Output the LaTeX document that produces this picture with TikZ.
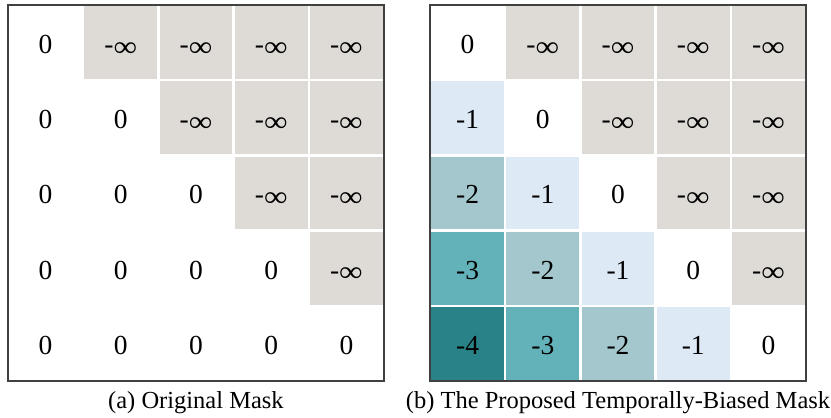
\documentclass[tikz,border=0pt]{standalone}
\usepackage{fontspec}
\usepackage{graphicx}
\setmainfont{Liberation Serif}
\definecolor{maskgray}{RGB}{222,219,214}
\definecolor{biasone}{RGB}{221,233,245}
\definecolor{biastwo}{RGB}{163,199,204}
\definecolor{biasthree}{RGB}{100,178,185}
\definecolor{biasfour}{RGB}{40,130,135}
\newcommand{\neginf}{-\raisebox{-2.5pt}{\scalebox{1.2}[1.05]{∞}}}
\tikzset{
  val/.style={font=\fontsize{27.5}{30}\selectfont, inner sep=0pt, anchor=base, yshift=-11pt},
  captext/.style={font=\fontsize{24.5}{28}\selectfont, anchor=base, inner sep=0pt},
  gap/.style={white, line width=2.5pt},
  frame/.style={draw=black!75, line width=1.2pt}
}
\begin{document}
\begin{tikzpicture}[x=75.2pt,y=75.2pt]
	  \useasboundingbox (-0.106,-0.479) rectangle (10.944,5.066);

	  % (a) original mask
	  \fill [maskgray] (1,4) rectangle (5,5);
	  \fill [maskgray] (2,3) rectangle (5,4);
	  \fill [maskgray] (3,2) rectangle (5,3);
	  \fill [maskgray] (4,1) rectangle (5,2);

	  \draw [gap] (1,0)--(1,5);
	  \draw [gap] (2,0)--(2,5);
	  \draw [gap] (3,0)--(3,5);
	  \draw [gap] (4,0)--(4,5);
	  \draw [gap] (0,1)--(5,1);
	  \draw [gap] (0,2)--(5,2);
	  \draw [gap] (0,3)--(5,3);
	  \draw [gap] (0,4)--(5,4);
	  \draw [frame] (0,0) rectangle (5,5);

	  \node [val] (a11) at (0.5,4.5) {0};
	  \node [val] (a12) at (1.5,4.5) {\neginf};
	  \node [val] (a13) at (2.5,4.5) {\neginf};
	  \node [val] (a14) at (3.5,4.5) {\neginf};
	  \node [val] (a15) at (4.5,4.5) {\neginf};
	  \node [val] (a21) at (0.5,3.5) {0};
	  \node [val] (a22) at (1.5,3.5) {0};
	  \node [val] (a23) at (2.5,3.5) {\neginf};
	  \node [val] (a24) at (3.5,3.5) {\neginf};
	  \node [val] (a25) at (4.5,3.5) {\neginf};
	  \node [val] (a31) at (0.5,2.5) {0};
	  \node [val] (a32) at (1.5,2.5) {0};
	  \node [val] (a33) at (2.5,2.5) {0};
	  \node [val] (a34) at (3.5,2.5) {\neginf};
	  \node [val] (a35) at (4.5,2.5) {\neginf};
	  \node [val] (a41) at (0.5,1.5) {0};
	  \node [val] (a42) at (1.5,1.5) {0};
	  \node [val] (a43) at (2.5,1.5) {0};
	  \node [val] (a44) at (3.5,1.5) {0};
	  \node [val] (a45) at (4.5,1.5) {\neginf};
	  \node [val] (a51) at (0.5,0.5) {0};
	  \node [val] (a52) at (1.5,0.5) {0};
	  \node [val] (a53) at (2.5,0.5) {0};
	  \node [val] (a54) at (3.5,0.5) {0};
	  \node [val] (a55) at (4.5,0.5) {0};

	  \node [captext] (capa) at (2.5,-0.372) {(a) Original Mask};

	  % (b) temporally-biased mask
	  \begin{scope}[shift={(5.612,0)}]
	  \fill [maskgray] (1,4) rectangle (5,5);
	  \fill [maskgray] (2,3) rectangle (5,4);
	  \fill [maskgray] (3,2) rectangle (5,3);
	  \fill [maskgray] (4,1) rectangle (5,2);

	  \fill [biasone] (0,3) rectangle (1,4);
	  \fill [biasone] (1,2) rectangle (2,3);
	  \fill [biasone] (2,1) rectangle (3,2);
	  \fill [biasone] (3,0) rectangle (4,1);
	  \fill [biastwo] (0,2) rectangle (1,3);
	  \fill [biastwo] (1,1) rectangle (2,2);
	  \fill [biastwo] (2,0) rectangle (3,1);
	  \fill [biasthree] (0,1) rectangle (1,2);
	  \fill [biasthree] (1,0) rectangle (2,1);
	  \fill [biasfour] (0,0) rectangle (1,1);

	  \draw [gap] (1,0)--(1,5);
	  \draw [gap] (2,0)--(2,5);
	  \draw [gap] (3,0)--(3,5);
	  \draw [gap] (4,0)--(4,5);
	  \draw [gap] (0,1)--(5,1);
	  \draw [gap] (0,2)--(5,2);
	  \draw [gap] (0,3)--(5,3);
	  \draw [gap] (0,4)--(5,4);
	  \draw [frame] (0,0) rectangle (5,5);

	  \node [val] (b11) at (0.5,4.5) {0};
	  \node [val] (b12) at (1.5,4.5) {\neginf};
	  \node [val] (b13) at (2.5,4.5) {\neginf};
	  \node [val] (b14) at (3.5,4.5) {\neginf};
	  \node [val] (b15) at (4.5,4.5) {\neginf};
	  \node [val] (b21) at (0.5,3.5) {-1};
	  \node [val] (b22) at (1.5,3.5) {0};
	  \node [val] (b23) at (2.5,3.5) {\neginf};
	  \node [val] (b24) at (3.5,3.5) {\neginf};
	  \node [val] (b25) at (4.5,3.5) {\neginf};
	  \node [val] (b31) at (0.5,2.5) {-2};
	  \node [val] (b32) at (1.5,2.5) {-1};
	  \node [val] (b33) at (2.5,2.5) {0};
	  \node [val] (b34) at (3.5,2.5) {\neginf};
	  \node [val] (b35) at (4.5,2.5) {\neginf};
	  \node [val] (b41) at (0.5,1.5) {-3};
	  \node [val] (b42) at (1.5,1.5) {-2};
	  \node [val] (b43) at (2.5,1.5) {-1};
	  \node [val] (b44) at (3.5,1.5) {0};
	  \node [val] (b45) at (4.5,1.5) {\neginf};
	  \node [val] (b51) at (0.5,0.5) {-4};
	  \node [val] (b52) at (1.5,0.5) {-3};
	  \node [val] (b53) at (2.5,0.5) {-2};
	  \node [val] (b54) at (3.5,0.5) {-1};
	  \node [val] (b55) at (4.5,0.5) {0};

	  \node [captext] (capb) at (2.5,-0.372) {(b) The Proposed Temporally-Biased Mask};
	  \end{scope}
\end{tikzpicture}
\end{document}
